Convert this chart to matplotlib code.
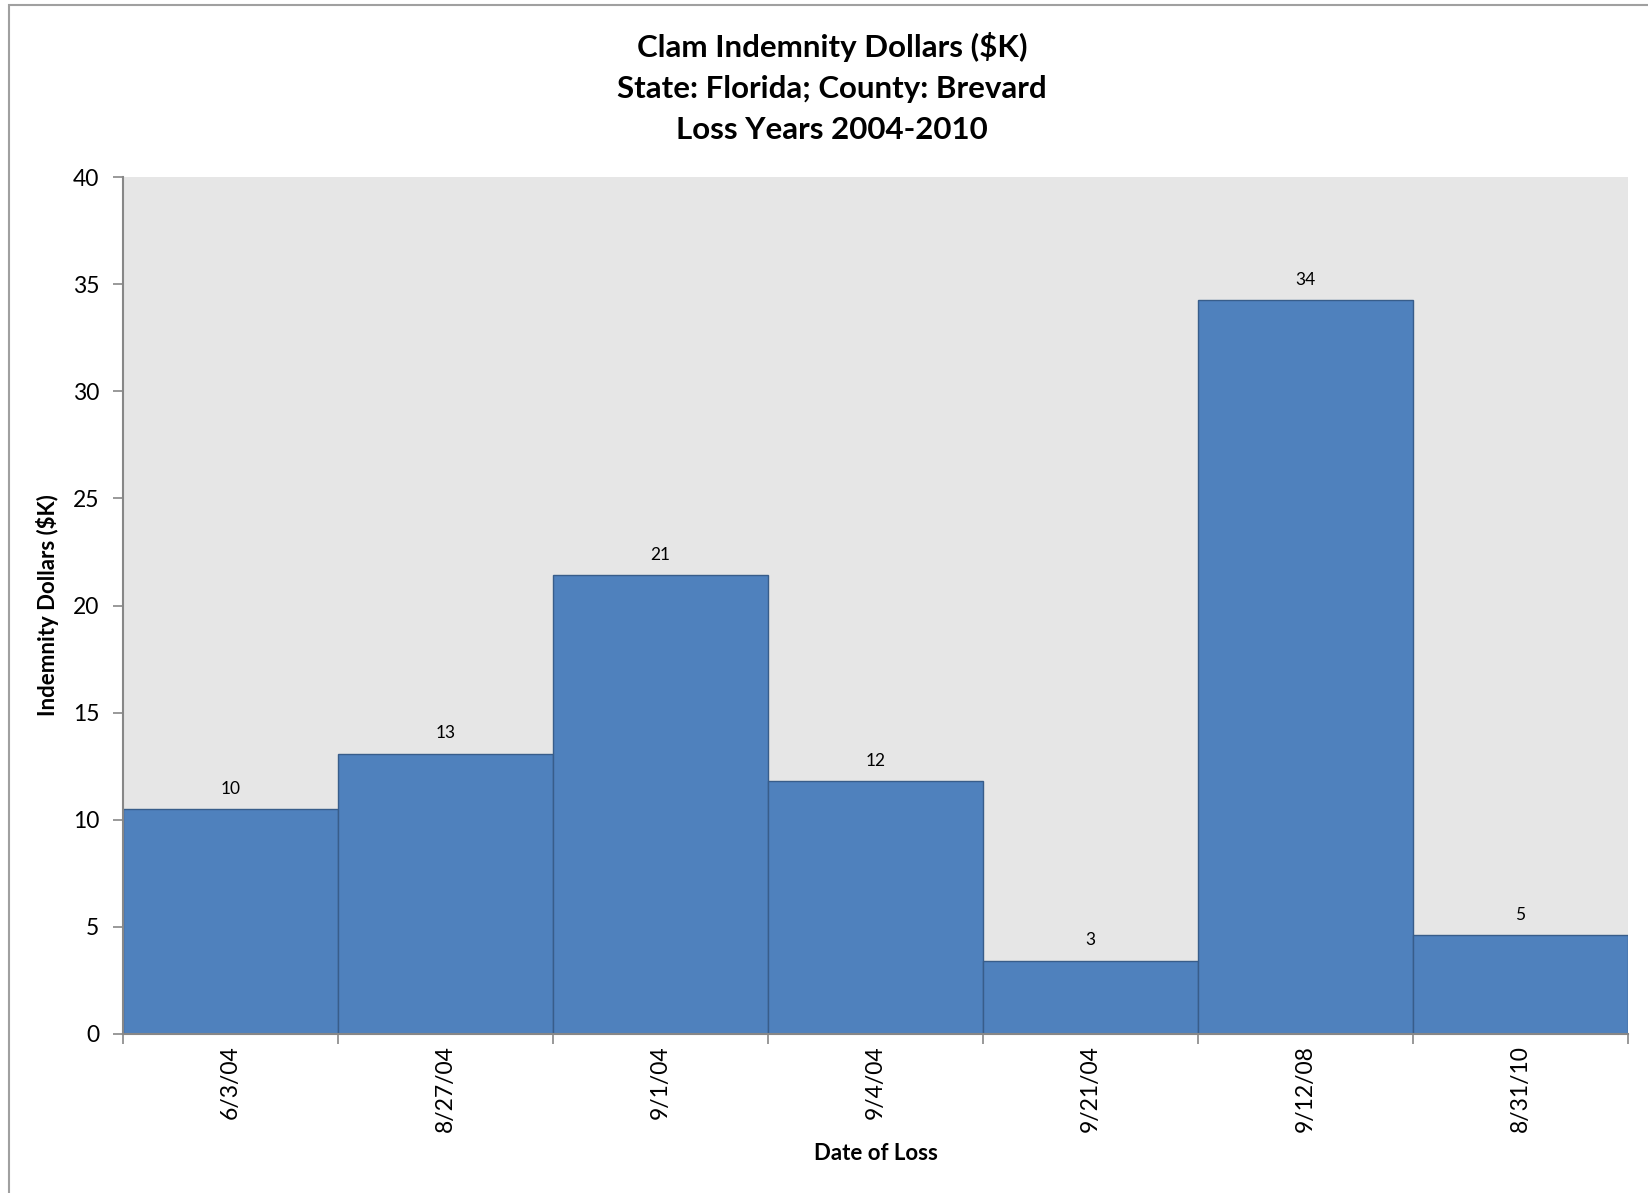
import matplotlib.pyplot as plt
import numpy as np
from matplotlib.patches import Rectangle

plt.rcParams['font.family'] = ['Lato', 'DejaVu Sans']

dates = ['6/3/04', '8/27/04', '9/1/04', '9/4/04', '9/21/04', '9/12/08', '8/31/10']
values = [10.48, 13.08, 21.42, 11.8, 3.42, 34.25, 4.6]
labels = ['10', '13', '21', '12', '3', '34', '5']

W, H = 1648, 1193
fig = plt.figure(figsize=(W / 100, H / 100), dpi=100)

# plot area in pixels
left, right, top, bottom = 123, 1628, 177, 1034
ax = fig.add_axes([left / W, 1 - bottom / H, (right - left) / W, (bottom - top) / H])
ax.set_facecolor('#E6E6E6')

# outer chart border
fig.patches.append(Rectangle((9 / W, -0.05), 1.1, 1 - 5 / H + 0.05,
                             transform=fig.transFigure, fill=False,
                             edgecolor='#A0A0A0', linewidth=1.5))

x = np.arange(len(dates))
ax.bar(x, values, width=1.0, color='#4F81BD', edgecolor='#385D8A', linewidth=1.0, zorder=2)

for xi, v, lab in zip(x, values, labels):
    ax.annotate(lab, (xi, v), xytext=(0, 9), textcoords='offset points',
                ha='center', va='bottom', fontsize=12.5)

ax.set_xlim(-0.5, len(dates) - 0.5)
ax.set_ylim(0, 40)
ax.set_yticks(range(0, 41, 5))
ax.tick_params(axis='y', labelsize=16.5, color='#878787', length=7, width=1.2, pad=10)

ax.set_xticks(x)
ax.set_xticklabels(dates, rotation=90, fontsize=16.5)
ax.set_xticks(np.arange(-0.5, len(dates)), minor=True)
ax.tick_params(axis='x', which='major', length=0, pad=8)
ax.tick_params(axis='x', which='minor', length=7, width=1.2, color='#878787')

for s in ['top', 'right']:
    ax.spines[s].set_visible(False)
for s in ['left', 'bottom']:
    ax.spines[s].set_color('#878787')
    ax.spines[s].set_linewidth(1.5)

ax.set_xlabel('Date of Loss', fontsize=16, fontweight='bold', labelpad=8)
ax.set_ylabel('Indemnity Dollars ($K)', fontsize=16, fontweight='bold', labelpad=10)

title_lines = ['Clam Indemnity Dollars ($K)', 'State: Florida; County: Brevard', 'Loss Years 2004-2010']
for i, line in enumerate(title_lines):
    fig.text(832 / W, 1 - (57 + 41 * i) / H, line, ha='center', va='baseline',
             fontsize=22.5, fontweight='bold')

fig.savefig('out.png', dpi=100)
